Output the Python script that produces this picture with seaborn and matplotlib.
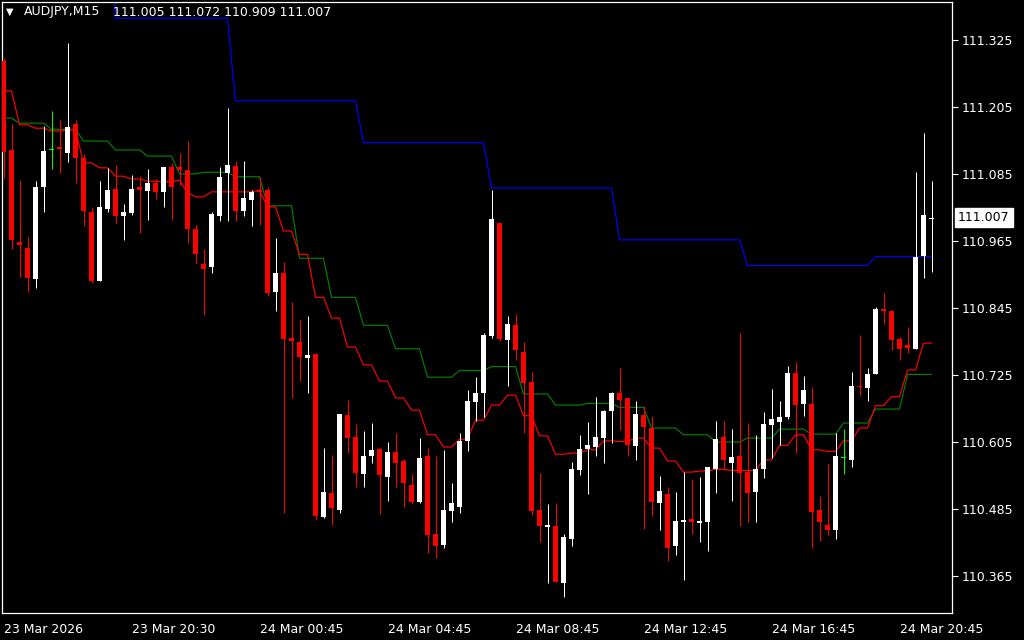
# -*- coding: utf-8 -*-
"""
AUDJPY M15 candlestick chart, MT4 style, with three step MAs
"""

import numpy as np
import pandas as pd

import matplotlib
matplotlib.use('Agg')
import matplotlib.pyplot as plt
import matplotlib.transforms as mtransforms
import seaborn as sns

#%% Data

opens = [111.287, 111.128, 110.964, 110.953, 110.897, 111.062, 111.128, 111.133, 111.123, 111.175,
         111.114, 111.017, 110.894, 111.022, 111.058, 111.009, 111.015, 111.061, 111.055, 111.069,
         111.052, 111.098, 111.098, 111.092, 110.987, 110.924, 110.918, 111.010, 111.087, 111.099,
         111.019, 111.039, 111.057, 111.056, 110.874, 110.907, 110.791, 110.784, 110.756, 110.763,
         110.471, 110.514, 110.483, 110.653, 110.614, 110.547, 110.579, 110.592, 110.543, 110.587,
         110.571, 110.528, 110.498, 110.579, 110.441, 110.421, 110.481, 110.489, 110.607, 110.677,
         110.693, 110.794, 110.997, 110.787, 110.815, 110.766, 110.713, 110.483, 110.453, 110.455,
         110.353, 110.431, 110.555, 110.592, 110.596, 110.612, 110.661, 110.693, 110.684, 110.597,
         110.653, 110.630, 110.496, 110.512, 110.418, 110.462, 110.467, 110.459, 110.462, 110.557,
         110.614, 110.568, 110.580, 110.551, 110.516, 110.556, 110.636, 110.641, 110.650, 110.728,
         110.673, 110.673, 110.483, 110.456, 110.447, 110.576, 110.573, 110.705, 110.702, 110.727,
         110.843, 110.840, 110.790, 110.779, 110.772, 110.938, 111.005]
highs = [111.293, 111.175, 111.074, 110.973, 111.072, 111.171, 111.198, 111.182, 111.320, 111.182,
         111.121, 111.026, 111.072, 111.096, 111.101, 111.031, 111.083, 111.081, 111.094, 111.076,
         111.098, 111.105, 111.123, 111.144, 110.994, 110.951, 111.017, 111.098, 111.203, 111.108,
         111.108, 111.056, 111.080, 111.061, 110.970, 110.927, 110.856, 110.824, 110.831, 110.765,
         110.595, 110.581, 110.655, 110.680, 110.637, 110.625, 110.639, 110.594, 110.605, 110.621,
         110.574, 110.548, 110.613, 110.594, 110.580, 110.591, 110.532, 110.621, 110.698, 110.722,
         110.801, 111.056, 110.998, 110.831, 110.834, 110.784, 110.730, 110.549, 110.494, 110.495,
         110.441, 110.569, 110.618, 110.641, 110.686, 110.662, 110.695, 110.738, 110.684, 110.678,
         110.670, 110.652, 110.544, 110.524, 110.516, 110.552, 110.539, 110.542, 110.560, 110.643,
         110.643, 110.628, 110.800, 110.639, 110.618, 110.658, 110.700, 110.678, 110.741, 110.748,
         110.723, 110.704, 110.508, 110.566, 110.621, 110.628, 110.730, 110.797, 110.738, 110.846,
         110.872, 110.841, 110.793, 110.811, 111.089, 111.158, 111.072]
lows = [111.078, 110.951, 110.901, 110.874, 110.881, 111.016, 111.094, 111.087, 111.107, 111.068,
        110.992, 110.890, 110.894, 111.016, 110.998, 110.967, 111.012, 110.979, 111.003, 111.040,
        111.026, 111.003, 111.065, 110.962, 110.926, 110.832, 110.907, 111.000, 111.000, 111.001,
        111.010, 110.992, 110.994, 110.867, 110.840, 110.478, 110.684, 110.715, 110.693, 110.465,
        110.468, 110.457, 110.477, 110.586, 110.524, 110.524, 110.568, 110.476, 110.500, 110.525,
        110.489, 110.494, 110.496, 110.407, 110.398, 110.416, 110.462, 110.477, 110.589, 110.643,
        110.650, 110.792, 110.786, 110.706, 110.751, 110.621, 110.474, 110.425, 110.353, 110.355,
        110.328, 110.419, 110.546, 110.512, 110.579, 110.568, 110.604, 110.627, 110.579, 110.572,
        110.450, 110.473, 110.447, 110.392, 110.403, 110.357, 110.440, 110.425, 110.410, 110.514,
        110.556, 110.500, 110.455, 110.462, 110.462, 110.541, 110.577, 110.600, 110.646, 110.586,
        110.652, 110.416, 110.428, 110.438, 110.432, 110.548, 110.561, 110.687, 110.679, 110.727,
        110.816, 110.770, 110.752, 110.764, 110.772, 110.899, 110.909]
closes = [111.124, 110.966, 110.957, 110.899, 111.062, 111.126, 111.128, 111.129, 111.169, 111.114,
          111.018, 110.894, 111.026, 111.056, 111.009, 111.017, 111.058, 111.056, 111.069, 111.052,
          111.098, 111.061, 111.092, 110.987, 110.942, 110.915, 111.013, 111.080, 111.101, 111.019,
          111.042, 111.052, 111.053, 110.872, 110.907, 110.790, 110.785, 110.758, 110.761, 110.473,
          110.516, 110.486, 110.655, 110.612, 110.549, 110.580, 110.591, 110.545, 110.587, 110.567,
          110.532, 110.498, 110.577, 110.439, 110.419, 110.483, 110.495, 110.607, 110.678, 110.693,
          110.797, 111.004, 110.789, 110.816, 110.769, 110.711, 110.482, 110.455, 110.457, 110.355,
          110.435, 110.557, 110.592, 110.600, 110.614, 110.661, 110.693, 110.681, 110.600, 110.655,
          110.631, 110.498, 110.517, 110.416, 110.464, 110.465, 110.461, 110.464, 110.560, 110.610,
          110.573, 110.578, 110.550, 110.514, 110.556, 110.637, 110.646, 110.650, 110.728, 110.671,
          110.698, 110.480, 110.461, 110.448, 110.580, 110.576, 110.705, 110.704, 110.727, 110.843,
          110.840, 110.788, 110.772, 110.773, 110.937, 111.012, 111.007]

# red: fast step MA (M30-ish)
ma_red = [111.234, 111.234, 111.173, 111.173, 111.167, 111.167, 111.162, 111.162, 111.164, 111.164,
          111.105, 111.105, 111.096, 111.096, 111.081, 111.081, 111.076, 111.076, 111.072, 111.072,
          111.071, 111.071, 111.074, 111.051, 111.044, 111.044, 111.053, 111.053, 111.053, 111.053,
          111.053, 111.053, 111.056, 111.026, 111.026, 110.983, 110.983, 110.941, 110.941, 110.864,
          110.864, 110.827, 110.827, 110.775, 110.775, 110.743, 110.743, 110.714, 110.714, 110.684,
          110.684, 110.662, 110.662, 110.618, 110.618, 110.596, 110.596, 110.610, 110.610, 110.644,
          110.644, 110.671, 110.671, 110.689, 110.689, 110.652, 110.652, 110.616, 110.616, 110.583,
          110.583, 110.585, 110.585, 110.591, 110.591, 110.607, 110.607, 110.606, 110.606, 110.612,
          110.612, 110.594, 110.594, 110.571, 110.571, 110.551, 110.551, 110.553, 110.553, 110.556,
          110.556, 110.554, 110.554, 110.554, 110.554, 110.573, 110.573, 110.599, 110.599, 110.618,
          110.618, 110.591, 110.591, 110.588, 110.588, 110.607, 110.607, 110.630, 110.630, 110.670,
          110.670, 110.686, 110.686, 110.734, 110.734, 110.782, 110.782]

# green: hourly step MA
ma_green = [111.185, 111.185, 111.176, 111.176, 111.176, 111.176, 111.165, 111.165, 111.165, 111.165,
            111.144, 111.144, 111.144, 111.144, 111.128, 111.128, 111.128, 111.128, 111.117, 111.117,
            111.117, 111.117, 111.085, 111.085, 111.085, 111.088, 111.088, 111.088, 111.088, 111.080,
            111.080, 111.080, 111.080, 111.028, 111.028, 111.028, 111.028, 110.934, 110.934, 110.934,
            110.934, 110.864, 110.864, 110.864, 110.864, 110.814, 110.814, 110.814, 110.814, 110.772,
            110.772, 110.772, 110.772, 110.721, 110.721, 110.721, 110.721, 110.733, 110.733, 110.733,
            110.733, 110.740, 110.740, 110.740, 110.740, 110.691, 110.691, 110.691, 110.691, 110.671,
            110.671, 110.671, 110.671, 110.674, 110.674, 110.674, 110.674, 110.667, 110.667, 110.667,
            110.667, 110.630, 110.630, 110.630, 110.630, 110.618, 110.618, 110.618, 110.618, 110.605,
            110.605, 110.605, 110.605, 110.612, 110.612, 110.612, 110.612, 110.628, 110.628, 110.628,
            110.628, 110.619, 110.619, 110.619, 110.619, 110.639, 110.639, 110.639, 110.639, 110.664,
            110.664, 110.664, 110.664, 110.726, 110.726, 110.726, 110.726]

# blue: 4-hour step MA (starts above the window)
nan = np.nan
ma_blue = [nan, nan, nan, nan, nan, nan, nan, nan, nan, nan,
           nan, nan, nan, 111.600, 111.364, 111.364, 111.364, 111.364, 111.364, 111.364,
           111.364, 111.364, 111.364, 111.364, 111.364, 111.364, 111.364, 111.364, 111.364, 111.216,
           111.216, 111.216, 111.216, 111.216, 111.216, 111.216, 111.216, 111.216, 111.216, 111.216,
           111.216, 111.216, 111.216, 111.216, 111.216, 111.141, 111.141, 111.141, 111.141, 111.141,
           111.141, 111.141, 111.141, 111.141, 111.141, 111.141, 111.141, 111.141, 111.141, 111.141,
           111.141, 111.060, 111.060, 111.060, 111.060, 111.060, 111.060, 111.060, 111.060, 111.060,
           111.060, 111.060, 111.060, 111.060, 111.060, 111.060, 111.060, 110.967, 110.967, 110.967,
           110.967, 110.967, 110.967, 110.967, 110.967, 110.967, 110.967, 110.967, 110.967, 110.967,
           110.967, 110.967, 110.967, 110.921, 110.921, 110.921, 110.921, 110.921, 110.921, 110.921,
           110.921, 110.921, 110.921, 110.921, 110.921, 110.921, 110.921, 110.921, 110.921, 110.937,
           110.937, 110.937, 110.937, 110.937, 110.937, 110.937, 110.937]

time_ticks = [0, 16, 32, 48, 64, 80, 96, 112]
time_labels = ['23 Mar 2026', '23 Mar 20:30', '24 Mar 00:45', '24 Mar 04:45',
               '24 Mar 08:45', '24 Mar 12:45', '24 Mar 16:45', '24 Mar 20:45']
price_ticks = [111.325, 111.205, 111.085, 110.965, 110.845, 110.725, 110.605, 110.485, 110.365]

symbol = 'AUDJPY,M15'
last_ohlc = '111.005 111.072 110.909 111.007'

#%% Build frame

df = pd.DataFrame({'bar': np.arange(len(opens)), 'open': opens, 'high': highs,
                   'low': lows, 'close': closes, 'red': ma_red, 'green': ma_green, 'blue': ma_blue})

df['bottom'] = df[['open', 'close']].min(axis=1)
df['body'] = (df['close'] - df['open']).abs().clip(lower=0.0018)
df['col'] = np.where(df['close'] > df['open'], 'white',
                     np.where(df['close'] < df['open'], '#ff0000', '#00ff00'))

#%% Style

sns.set_theme(style='dark', rc={'figure.facecolor': 'black', 'axes.facecolor': 'black',
                                'savefig.facecolor': 'black', 'axes.edgecolor': 'white',
                                'text.color': 'white', 'xtick.color': 'white', 'ytick.color': 'white'})
plt.rcParams['font.family'] = ['DejaVu Sans']

W, H = 1024, 640
fig = plt.figure(figsize=(W / 100, H / 100), dpi=100)
# plot frame: x 2..952, y 2..613 (pixels)
ax = fig.add_axes([2 / W, (H - 613) / H, 950 / W, 611 / H])

#%% Moving averages (thin 1px lines)

px = 0.72  # one pixel in points at 100 dpi
sns.lineplot(data=df, x='bar', y='blue', color='#0000ff', linewidth=0.85, ax=ax, zorder=2)
sns.lineplot(data=df, x='bar', y='green', color='#008000', linewidth=0.85, ax=ax, zorder=2)
sns.lineplot(data=df, x='bar', y='red', color='#ff0000', linewidth=0.85, ax=ax, zorder=2)

#%% Candles (8 px per bar, 5 px bodies, 1 px wicks centred on a pixel)

ax.vlines(df['bar'], df['low'], df['high'], colors=df['col'], linewidth=px, zorder=3)
ax.bar(df['bar'], df['body'], bottom=df['bottom'], width=0.625, color=df['col'],
       linewidth=0, zorder=4)

#%% Axes, ticks, labels

ax.set_xlim(-0.1875, 118.5625)
ax.set_ylim(110.2987, 111.393)
ax.set_xlabel('')
ax.set_ylabel('')
ax.grid(False)
for s in ax.spines.values():
    s.set_color('white')
    s.set_linewidth(0.9)

ax.yaxis.tick_right()
ax.set_yticks(price_ticks)
ax.set_yticklabels(['{:.3f}'.format(p) for p in price_ticks])
ax.set_xticks(time_ticks)
ax.set_xticklabels(time_labels, ha='left')
ax.tick_params(axis='both', colors='white', labelsize=9, length=4, width=0.8, direction='out')
ax.tick_params(axis='y', pad=3)
ax.tick_params(axis='x', pad=3)

# last price box on the price scale
trans = mtransforms.blended_transform_factory(ax.transAxes, ax.transData)
ax.text(1 + 6 / 950, closes[-1], '{:.3f}'.format(closes[-1]), transform=trans, color='black',
        fontsize=9, va='center', ha='left', clip_on=False, zorder=6,
        bbox=dict(boxstyle='square,pad=0.25', fc='white', ec='white'))

# header
fig.text(6 / W, 1 - 12 / H, '\u25bc', color='white', fontsize=7, va='center', ha='left')
fig.text(24 / W, 1 - 12 / H, symbol, color='white', fontsize=9, va='center', ha='left')
fig.text(113 / W, 1 - 12 / H, last_ohlc, color='white', fontsize=9, va='center', ha='left')

fig.savefig('out.png', dpi=100, facecolor='black')
